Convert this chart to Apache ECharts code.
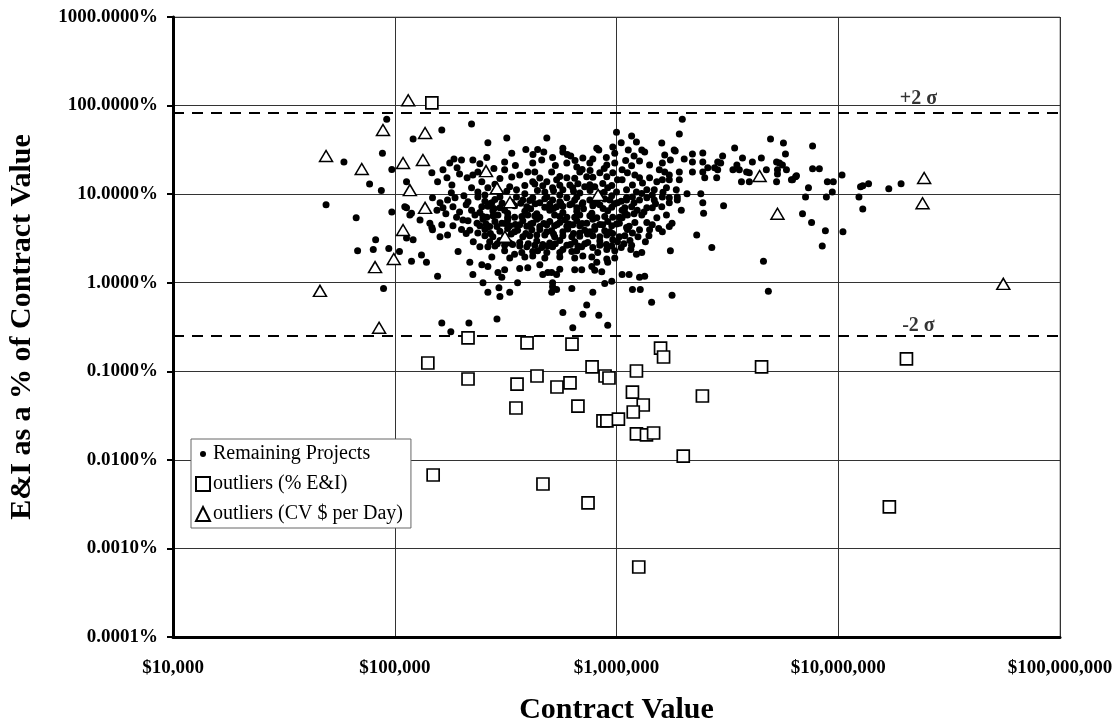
<!DOCTYPE html>
<html>
<head>
<meta charset="utf-8">
<script src="https://cdn.jsdelivr.net/npm/echarts@6/dist/echarts.min.js"></script>
<style>
html,body{margin:0;padding:0;background:#fff;}
#chart{width:1117px;height:728px;}
</style>
</head>
<body>
<div id="chart"></div>
<script>
// ---- Data (Contract Value in $, E&I in % of contract value) ----
const remainingProjects = [
 [92e3,70],[88e3,29],[59e3,23],[97e3,19],[77e3,13],[87e3,11],[49e3,7.6],[97e3,6.3],[67e3,5.4],[82e3,3.05],[68e3,2.3],[80e3,2.37],[94e3,2.43],[105e3,2.25],[89e3,0.86],
 [222e3,62],[163e3,53],[121e3,42],[263e3,38],[320e3,43],[485e3,43],[1.0e6,50],[1.05e6,38],[390e3,32],[441e3,32],[573e3,33],[573e3,30],[337e3,29],[622e3,27],[832e3,31.5],[815e3,33],[982e3,29],[515e3,26],[460e3,24.3],[705e3,25.6],[782e3,24.9],[185e3,24.9],[200e3,24.3],[177e3,22.5],[225e3,24.3],[242e3,22],[313e3,23],[419e3,22.5],[597e3,22.5],[662e3,20.3],[758e3,22.5],[904e3,21.4],[982e3,22.5],[147e3,17.4],[165e3,18.8],[191e3,19.8],[196e3,16.9],[212e3,15.3],[172e3,15.3],[156e3,13.8],[181e3,12.7],[237e3,17.8],[225e3,16.5],[313e3,18.8],[366e3,16.5],[398e3,17.8],[428e3,17.8],[419e3,13.8],[510e3,17.8],[485e3,13.8],[537e3,14.5],[597e3,15.3],[616e3,12.7],[683e3,17.8],[734e3,15.7],[841e3,17.4],[904e3,15.7],[962e3,17.4],[1.01e6,14.5],[247e3,13.8],[263e3,11.8],[222e3,11.8],[237e3,10.6],[330e3,12.1],[354e3,11.2],[465e3,12.4],[515e3,11.8],[573e3,11.2],[635e3,11.8],[719e3,12.1],[798e3,12.1],[913e3,11.8],[1.0e6,10.6],[113e3,13.8],
 [148e3,9.1],[173e3,8.6],[187e3,9.1],[113e3,7.0],[155e3,6.6],[165e3,7.0],[183e3,7.2],[196e3,6.3],[214e3,8.2],[222e3,6.6],[237e3,9.3],[247e3,7.2],[274e3,8.0],[298e3,9.3],[313e3,6.6],[354e3,9.3],[378e3,8.6],[394e3,7.2],[419e3,9.1],[451e3,8.0],[485e3,9.3],[515e3,8.6],[537e3,7.2],[597e3,9.1],[616e3,7.6],[662e3,9.3],[705e3,8.0],[758e3,8.6],[841e3,7.6],[933e3,8.6],[1.01e6,8.0],[1.11e6,9.1],
 [117e3,5.8],[130e3,5.1],[144e3,4.7],[163e3,4.5],[183e3,4.4],[203e3,5.1],[230e3,5.8],[235e3,4.7],[260e3,5.5],[268e3,4.3],[292e3,5.8],[304e3,4.7],[347e3,5.5],[366e3,4.5],[398e3,5.8],[419e3,4.7],[451e3,5.5],[485e3,4.5],[526e3,5.8],[555e3,4.8],[597e3,5.5],[635e3,4.5],[683e3,5.8],[734e3,4.7],[815e3,5.4],[867e3,4.5],[962e3,5.5],[1.03e6,4.7],[1.12e6,5.8],
 [113e3,3.2],[147e3,4.2],[160e3,3.3],[173e3,3.45],[193e3,2.25],[237e3,3.65],[260e3,4.2],[277e3,3.3],[347e3,3.75],[378e3,3.3],[415e3,3.95],[437e3,3.45],[485e3,3.75],[526e3,3.3],[573e3,3.75],[629e3,3.3],[683e3,3.65],[758e3,3.75],[841e3,3.3],[933e3,3.75],[1.03e6,3.3],
 [242e3,2.55],[263e3,2.55],[330e3,2.8],[347e3,2.1],[394e3,2.55],[419e3,2.25],[460e3,2.5],[485e3,2.2],[515e3,2.55],[573e3,2.37],[629e3,2.25],[697e3,2.55],[705e3,2.0],[782e3,2.5],[904e3,2.37],[962e3,3.05],[1.05e6,2.5],[119e3,1.75],[132e3,2.05],[139e3,1.7],
 [218e3,1.7],[247e3,1.6],[263e3,1.52],[398e3,1.48],[451e3,1.6],[465e3,1.24],[510e3,1.3],[537e3,1.24],[648e3,1.4],[697e3,1.4],[774e3,1.52],[858e3,1.33],[913e3,1.7],[952e3,1.04],[1.06e6,1.24],[1.14e6,1.24],[225e3,1.24],[292e3,1.3],[304e3,1.15],[250e3,1.0],[358e3,1.0],[156e3,1.18],[515e3,1.0],
 [263e3,0.78],[298e3,0.70],[330e3,0.78],[510e3,0.78],[515e3,0.90],[629e3,0.86],[782e3,0.78],[734e3,0.56],[705e3,0.44],[573e3,0.46],[832e3,0.43],[913e3,0.33],[635e3,0.31],[289e3,0.39],[216e3,0.35],[163e3,0.35],[179e3,0.28],
 [295e3,0.88],[419e3,2.0],[490e3,1.3],[537e3,0.84],[815e3,1.7],[904e3,1.85],[885e3,0.98],[1.27e6,1.15],[1.34e6,1.18],[1.18e6,0.84],[1.28e6,0.84],[1.44e6,0.60],[1.78e6,0.72],[4.6e6,1.75],[4.84e6,0.80],[1.23e6,2.1],
 [111e3,7.2],[119e3,6.1],[148e3,3.95],[121e3,3.05],
 [255e3,8.3],[283e3,8.7],[337e3,8.1],[406e3,8.5],[475e3,8.9],[555e3,8.2],[648e3,8.6],[782e3,8.0],[885e3,8.8],[1.05e6,8.3],
 [242e3,6.2],[277e3,6.5],[323e3,6.1],[386e3,6.4],[437e3,6.0],[500e3,6.6],[573e3,6.2],[662e3,6.4],[774e3,6.1],[913e3,6.5],[1.09e6,6.2],
 [214e3,5.0],[250e3,5.2],[283e3,4.9],[323e3,5.1],[378e3,5.0],[437e3,5.2],[500e3,4.9],[585e3,5.1],[662e3,5.0],[782e3,5.2],[913e3,4.9],
 [218e3,3.9],[255e3,4.0],[298e3,3.8],[323e3,4.1],[358e3,3.9],[451e3,4.0],[510e3,3.85],[603e3,4.05],[719e3,3.9],[798e3,4.0],[885e3,3.85],[1.12e6,4.0],
 [268e3,2.9],[298e3,3.0],[366e3,2.85],[437e3,2.95],[500e3,2.8],[555e3,3.0],[648e3,2.9],[742e3,2.85],[841e3,2.95],[1.01e6,2.9],
 [313e3,2.3],[374e3,2.2],[441e3,2.3],[555e3,2.2],[662e3,2.3],[823e3,2.2],[982e3,2.3],
 [255e3,9.8],[298e3,10.3],[386e3,10.1],[475e3,10.6],[555e3,9.8],[683e3,10.3],[841e3,10.1],[952e3,9.6],
 [283e3,12.9],[386e3,12.5],[428e3,13.0],[555e3,12.6],[670e3,13.1],[758e3,12.8],[867e3,13.2],[952e3,12.5],
 [298e3,15.0],[337e3,15.6],[451e3,15.2],[555e3,15.8],[648e3,15.1],[782e3,15.5],
 [263e3,7.3],[298e3,7.0],[347e3,7.4],[475e3,7.1],[573e3,7.3],[662e3,7.0],[782e3,7.4],[952e3,7.1],[1.09e6,7.0],
 [250e3,5.6],[277e3,5.7],[323e3,5.5],[374e3,5.6],[428e3,5.7],[555e3,5.6],[648e3,5.5],[758e3,5.7],[885e3,5.6],[1.03e6,5.5],
 [242e3,4.4],[289e3,4.3],[330e3,4.4],[394e3,4.35],[451e3,4.3],[526e3,4.4],[597e3,4.35],[683e3,4.4],[798e3,4.3],[952e3,4.4],[1.14e6,4.35],
 [255e3,3.4],[313e3,3.35],[406e3,3.4],[475e3,3.45],[573e3,3.4],[683e3,3.35],[782e3,3.4],[904e3,3.45],[1.09e6,3.4],
 [283e3,2.6],[313e3,2.65],[366e3,2.6],[428e3,2.65],[490e3,2.6],[597e3,2.65],[670e3,2.6],[841e3,2.65],[952e3,2.6],[1.17e6,2.65],
 [274e3,1.95],[330e3,1.9],[386e3,1.95],[475e3,1.9],[555e3,1.95],[648e3,1.9],[774e3,1.95],[982e3,1.9],
 [313e3,1.4],[366e3,1.45],[555e3,1.42],[798e3,1.38],
 [205e3,9.6],[180e3,10.4],[160e3,8.0],[200e3,4.0],[210e3,3.6],[190e3,5.5],[170e3,6.0],[226e3,2.9],[210e3,7.6],
 [1.2e6,6.0],[1.33e6,6.3],[1.5e6,7.8],[1.25e6,3.3],[1.4e6,3.4],[1.55e6,4.1],[1.3e6,2.2],[1.15e6,3.0],[1.2e6,8.0],[1.45e6,9.8],[1.3e6,10.2],[1.62e6,10.5],
 [420e3,28],[470e3,30],[530e3,21],[650e3,24],[700e3,19],[760e3,18.5],[880e3,19.5],[1.1e6,24],[1.2e6,27],[350e3,21],[280e3,19.5],[260e3,26],[600e3,28],[900e3,26],
 [268e3,7.8],[305e3,7.9],[340e3,7.7],[370e3,7.9],[430e3,7.8],[500e3,7.7],[560e3,7.9],[630e3,7.8],[700e3,7.7],[820e3,7.9],[980e3,7.8],
 [258e3,4.6],[315e3,4.65],[350e3,4.55],[410e3,4.6],[470e3,4.65],[540e3,4.55],[610e3,4.6],[700e3,4.65],[840e3,4.55],[1.0e6,4.6],
 [290e3,2.75],[340e3,2.7],[400e3,2.75],[465e3,2.7],[530e3,2.75],[620e3,2.7],[720e3,2.75],[900e3,2.7],[1.08e6,2.75],
 [270e3,3.6],[335e3,3.55],[390e3,3.6],[520e3,3.55],[640e3,3.6],[740e3,3.55],[960e3,3.6],
 [280e3,6.9],[410e3,6.85],[520e3,6.9],[710e3,6.85],[870e3,6.9],
 [320e3,10.8],[440e3,11.0],[520e3,10.9],[640e3,10.8],[760e3,11.0],[880e3,10.5],
 [1.98e6,70],[1.92e6,47.7],[1.17e6,45.3],[1.23e6,38.8],[1.60e6,37.8],[1.13e6,31.5],[1.30e6,31.5],[1.34e6,29.9],[1.65e6,27.7],[1.82e6,31.5],[2.20e6,28.4],[2.45e6,29.2],[3.01e6,27],[3.41e6,33.2],[4.95e6,42],[5.66e6,37.8],[5.78e6,28.4],[7.66e6,35],
 [1.27e6,23.7],[1.75e6,24.3],[1.61e6,22.5],[2.02e6,24.9],[2.20e6,23.1],[2.45e6,23.1],[2.86e6,23.1],[2.95e6,22.5],[3.70e6,25.6],[4.10e6,23.1],[4.50e6,25.6],[5.27e6,23.1],[5.43e6,22.5],
 [1.17e6,20.9],[1.41e6,21.4],[1.06e6,18.8],[1.12e6,17.4],[1.21e6,16.5],[1.27e6,15.3],[1.56e6,18.8],[1.65e6,17.8],[1.73e6,16.5],[1.92e6,17.8],[2.20e6,17.8],[2.45e6,17.8],[2.58e6,19.8],[2.86e6,18.8],[3.49e6,21.4],[3.58e6,18.8],[3.86e6,17.8],[4.74e6,18.8],[5.32e6,18.8],[5.84e6,18.8],[7.66e6,19.3],[8.22e6,19.3],[10.4e6,16.5],
 [1.06e6,14.5],[1.18e6,12.7],[1.31e6,13.4],[1.41e6,15.3],[1.52e6,13.8],[1.61e6,14.5],[1.73e6,14.5],[1.92e6,14.5],[2.50e6,15.3],[2.83e6,15.3],[3.66e6,13.8],[3.97e6,13.8],[5.27e6,13.8],[6.22e6,14.5],[6.42e6,15.7],[8.93e6,13.8],[9.50e6,13.8],
 [1.11e6,11.2],[1.23e6,10.6],[1.37e6,11.2],[1.48e6,11.2],[1.68e6,11.8],[1.86e6,11.2],[9.40e6,10.6],[7.34e6,11.8],
 [1.11e6,8.6],[1.18e6,9.3],[1.27e6,8.6],[1.37e6,9.1],[1.48e6,8.6],[1.61e6,9.3],[1.73e6,9.1],[1.88e6,9.3],[2.08e6,10.1],[2.40e6,10.1],[7.12e6,9.3],[8.84e6,9.3],
 [1.06e6,6.6],[1.17e6,7.2],[1.24e6,6.6],[1.37e6,7.0],[1.45e6,7.0],[1.60e6,7.2],[1.73e6,8.0],[1.88e6,8.6],[1.96e6,6.6],[2.45e6,8.0],[3.04e6,7.4],[2.47e6,6.1],
 [1.06e6,5.4],[1.21e6,4.8],[1.30e6,5.8],[1.37e6,4.8],[1.52e6,5.4],[1.68e6,5.8],[1.78e6,4.7],[6.90e6,6.0],[7.58e6,4.8],
 [1.11e6,4.2],[1.18e6,3.65],[1.27e6,3.95],[1.41e6,3.95],[1.45e6,4.5],[1.61e6,3.75],[1.73e6,4.3],[2.30e6,3.45],[8.75e6,3.85],[10.5e6,3.75],
 [1.35e6,2.9],[1.16e6,2.37],[1.75e6,2.3],[2.69e6,2.5],[8.47e6,2.6],[12.6e6,12.1],
 [5.60e6,21.4],[2.77e6,19.8],[3.97e6,17.4],[5.32e6,16.9],[6.48e6,16.1],[6.15e6,14.5],[12.9e6,12.4],[13.7e6,13.1],[12.4e6,9.3],[16.9e6,11.5],[19.2e6,13.1],[12.9e6,6.8],
 [1.84e6,30.7],[962e3,34],[3.35e6,18.8]
];

const outliersPctEI = [
 [147e3,107],[214e3,0.238],[395e3,0.209],[630e3,0.203],[1.58e6,0.183],[1.63e6,0.145],[141e3,0.124],[776e3,0.112],[4.51e6,0.112],
 [888e3,0.0885],[925e3,0.084],[1.23e6,0.1007],[214e3,0.0818],[438e3,0.0885],[356e3,0.0718],[617e3,0.0738],[539e3,0.0665],[1.18e6,0.0583],
 [2.44e6,0.0526],[1.32e6,0.0416],[352e3,0.0385],[670e3,0.0405],[1.19e6,0.0347],[869e3,0.0275],[905e3,0.0275],[1.02e6,0.0289],
 [1.23e6,0.0196],[1.365e6,0.0191],[1.47e6,0.0201],[2.0e6,0.011],[149e3,0.00675],[466e3,0.00534],[744e3,0.00326],[1.26e6,0.000617],
 [17.0e6,0.00294],[20.3e6,0.138]
];

const outliersCVPerDay = [
 [88.5e3,53],[49e3,27],[71e3,19.2],[109e3,22.5],[117e3,11.1],[134e3,24.3],[137e3,49],[137e3,7.0],[109e3,3.94],
 [258e3,18.2],[289e3,11.7],[331e3,8.1],[314e3,3.3],[826e3,9.8],[115e3,115],[99e3,1.85],[81.5e3,1.5],[46e3,0.81],
 [85e3,0.31],[4.42e6,16],[5.32e6,6.0],[24.4e6,15.2],[24e6,7.9],[55.5e6,0.97]
];

const sigmaLevels = { plus: 82.5, minus: 0.251 };
const sigmaLabels = ['+2 σ', '-2 σ'];
const sigmaLabelX = 23e6;
const xRange = [1e4, 1e8];
const yRange = [0.0001, 1000];
const seriesNames = ['Remaining Projects', 'outliers (% E&I)', 'outliers (CV $ per Day)'];

// ---- Chart ----
const FONT = "'Liberation Serif','Times New Roman',serif";
const chart = echarts.init(document.getElementById('chart'), null, { renderer: 'canvas' });

const hollow = { color: '#fff', borderColor: '#000', opacity: 1 };

chart.setOption({
  animation: false,
  backgroundColor: '#fff',
  textStyle: { fontFamily: FONT, color: '#000' },
  grid: { left: 173, right: 57, top: 17, bottom: 91, show: true, borderColor: '#888', borderWidth: 1, outerBoundsMode: 'none' },
  legend: {
    orient: 'vertical',
    left: 191, top: 439,
    backgroundColor: '#fff',
    borderColor: '#666', borderWidth: 1,
    padding: [5, 8, 4, 4],
    itemGap: 10,
    itemWidth: 14, itemHeight: 14,
    textStyle: { fontFamily: FONT, fontSize: 20, color: '#000', padding: [0, 0, 0, -2] },
    data: [
      { name: seriesNames[0], icon: 'path://M0,0M14,14M4,7A3,3 0 1,1 10,7A3,3 0 1,1 4,7Z' },
      { name: seriesNames[1] },
      { name: seriesNames[2] }
    ]
  },
  xAxis: {
    type: 'log', logBase: 10, min: xRange[0], max: xRange[1],
    name: 'Contract Value', nameLocation: 'middle', nameGap: 58,
    nameTextStyle: { fontFamily: FONT, fontSize: 30, fontWeight: 'bold', color: '#000' },
    axisLine: { show: true, onZero: false, lineStyle: { color: '#000', width: 3 } },
    axisTick: { show: false },
    axisLabel: {
      margin: 22, fontFamily: FONT, fontSize: 19, fontWeight: 'bold', color: '#000',
      formatter: v => '$' + Math.round(v).toLocaleString('en-US')
    },
    splitLine: { show: true, lineStyle: { color: '#333', width: 1 } },
    minorTick: { show: false }
  },
  yAxis: {
    type: 'log', logBase: 10, min: yRange[0], max: yRange[1],
    name: 'E&I as a % of Contract Value', nameLocation: 'middle', nameGap: 136, nameRotate: 90,
    nameTextStyle: { fontFamily: FONT, fontSize: 30, fontWeight: 'bold', color: '#000' },
    axisLine: { show: true, onZero: false, lineStyle: { color: '#000', width: 3 } },
    axisTick: { show: true, length: 6, lineStyle: { color: '#000', width: 2 } },
    axisLabel: {
      margin: 15, fontFamily: FONT, fontSize: 19, fontWeight: 'bold', color: '#000',
      formatter: v => Number(v).toFixed(4) + '%'
    },
    splitLine: { show: true, lineStyle: { color: '#333', width: 1 } }
  },
  series: [
    {
      name: seriesNames[0], type: 'scatter', symbol: 'circle', symbolSize: 7,
      itemStyle: { color: '#000', opacity: 1 }, data: remainingProjects, z: 3, silent: true
    },
    {
      name: seriesNames[1], type: 'scatter', symbol: 'rect', symbolSize: 12,
      itemStyle: Object.assign({ borderWidth: 1.7 }, hollow), data: outliersPctEI, z: 4, silent: true
    },
    {
      name: seriesNames[2], type: 'scatter', symbol: 'triangle', symbolSize: [13, 11],
      itemStyle: Object.assign({ borderWidth: 1.5 }, hollow), data: outliersCVPerDay, z: 5, silent: true
    },
    {
      name: 'sigmaPlus', type: 'line', symbol: 'none', silent: true, z: 2,
      lineStyle: { color: '#000', width: 2, type: [11, 8] },
      data: [[xRange[0], sigmaLevels.plus], [xRange[1], sigmaLevels.plus]]
    },
    {
      name: 'sigmaMinus', type: 'line', symbol: 'none', silent: true, z: 2,
      lineStyle: { color: '#000', width: 2, type: [11, 8] },
      data: [[xRange[0], sigmaLevels.minus], [xRange[1], sigmaLevels.minus]]
    },
    {
      name: 'sigmaLabels', type: 'scatter', symbolSize: 0, silent: true, z: 6,
      label: {
        show: true, position: 'top', fontFamily: FONT, fontSize: 20, fontWeight: 'bold', color: '#000',
        formatter: p => p.data.text
      },
      data: [
        { value: [sigmaLabelX, sigmaLevels.plus], text: sigmaLabels[0], label: { distance: 4 } },
        { value: [sigmaLabelX, sigmaLevels.minus], text: sigmaLabels[1], label: { distance: 0 } }
      ]
    }
  ]
});
</script>
</body>
</html>
